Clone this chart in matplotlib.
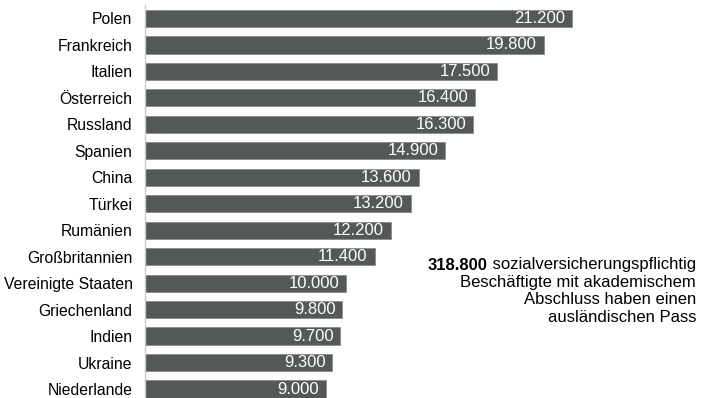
import matplotlib
matplotlib.use("Agg")
import matplotlib.pyplot as plt

countries = ["Polen", "Frankreich", "Italien", "Österreich", "Russland", "Spanien",
             "China", "Türkei", "Rumänien", "Großbritannien", "Vereinigte Staaten",
             "Griechenland", "Indien", "Ukraine", "Niederlande"]
values = [21200, 19800, 17500, 16400, 16300, 14900, 13600, 13200, 12200, 11400,
          10000, 9800, 9700, 9300, 9000]
total_label = "318.800"

plt.rcParams['font.family'] = ['Liberation Sans', 'DejaVu Sans']

W, H = 710, 398
fig = plt.figure(figsize=(W / 100, H / 100), dpi=100)
ax = fig.add_axes([145 / W, 0, (W - 145) / W, 393 / H])

pos = list(range(len(countries)))
ax.barh(pos, values, height=0.65, color="#555859", edgecolor="#8a8c8d", linewidth=0.6)
ax.set_xlim(0, 28050)
ax.set_ylim(14.34, -0.51)

def fmt(v):
    return f"{v:,}".replace(",", ".")

for p, v in zip(pos, values):
    ax.annotate(fmt(v), (v, p), xytext=(-5, 0), textcoords="offset points",
                ha="right", va="center", color="white", fontsize=12)

ax.set_yticks(pos)
ax.set_yticklabels(countries, fontsize=11.3)
ax.tick_params(axis="y", length=0, pad=9)
ax.set_xticks([])
for s in ["top", "right", "bottom"]:
    ax.spines[s].set_visible(False)
ax.spines["left"].set_color("#c8c8c8")
ax.spines["left"].set_linewidth(1.0)

lines_y = [265, 282.5, 300, 317.5]
rest = ["sozialversicherungspflichtig", "Beschäftigte mit akademischem",
        "Abschluss haben einen", "ausländischen Pass"]
# first line: bold number followed by regular text, right-aligned together
t1 = fig.text(696 / W, 1 - lines_y[0] / H, " " + rest[0], ha="right", va="center",
              fontsize=12)
fig.canvas.draw()
bb = t1.get_window_extent()
fig.text(bb.x0 / W, 1 - lines_y[0] / H, total_label, ha="right", va="center",
         fontsize=12, fontweight="bold")
for y, s in zip(lines_y[1:], rest[1:]):
    fig.text(696 / W, 1 - y / H, s, ha="right", va="center", fontsize=12)

fig.savefig("out.png", dpi=100)
